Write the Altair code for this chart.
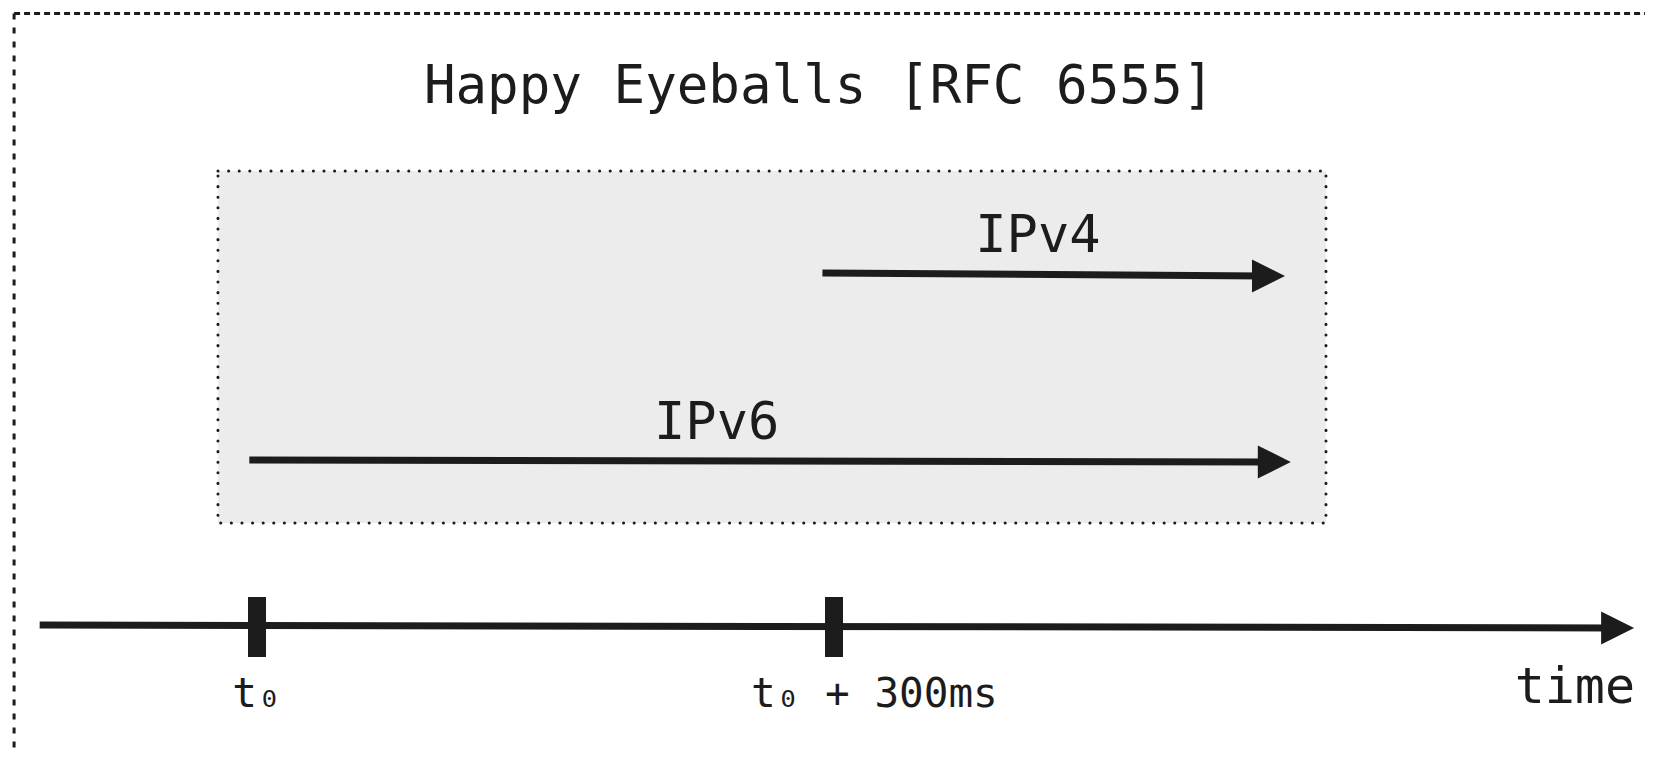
import altair as alt
import pandas as pd

# ---- values (x in ms relative to t0, y in page rows) ----
tick_ms = [0, 300]
tick_labels = ["t₀", "t₀ + 300ms"]
tick_label_ms = [0, 321]

arrow_names = ["IPv4", "IPv6", "time"]
arrow_start = [294, -4, -113]
arrow_end = [534.5, 537.5, 716]
arrow_y0 = [273, 460, 625]
arrow_y1 = [276, 462, 628]

label_text = ["IPv4", "IPv6"]
label_ms = [406, 239]
label_row = [252, 439]

title_text = "Happy Eyeballs [RFC 6555]"

# ---- layout ----
W, H = 1637, 741
PX_PER_MS = (834 - 257) / 300.0
X_DOMAIN = [(8 - 257) / PX_PER_MS, (1645 - 257) / PX_PER_MS]
Y_DOMAIN = [8, 749]
INK = "#1c1c1c"
FONT = "DejaVu Sans Mono"

xs = alt.Scale(domain=X_DOMAIN, range=[0, W], nice=False, zero=False)
ys = alt.Scale(domain=Y_DOMAIN, reverse=True, nice=False, zero=False)

def X(f, **k):
    return alt.X(f, type="quantitative", scale=xs, axis=None, **k)

def Y(f, **k):
    return alt.Y(f, type="quantitative", scale=ys, axis=None, **k)

arrows = pd.DataFrame({"name": arrow_names, "start": arrow_start, "end": arrow_end,
                       "y0": arrow_y0, "y1": arrow_y1})
ticks = pd.DataFrame({"ms": tick_ms, "label": tick_labels, "lms": tick_label_ms,
                      "top": [597, 597], "bot": [657, 657], "row": [707, 707]})
labels = pd.DataFrame({"text": label_text, "ms": label_ms, "row": label_row})
box = pd.DataFrame({"x0": [-20.3], "x1": [555.8], "y0": [171], "y1": [523]})
frame = pd.DataFrame({"x0": [-126.3], "x1": [X_DOMAIN[1] + 10], "y0": [13.5], "y1": [Y_DOMAIN[1] + 10]})
title_df = pd.DataFrame({"text": [title_text], "ms": [292.2], "row": [103]})
time_df = pd.DataFrame({"text": ["time"], "ms": [716.5], "row": [703]})

frame_top = alt.Chart(frame).mark_rule(color=INK, strokeWidth=3, strokeDash=[6, 4]).encode(
    x=X("x0"), x2="x1", y=Y("y0"))
frame_left = alt.Chart(frame).mark_rule(color=INK, strokeWidth=3, strokeDash=[6, 8]).encode(
    x=X("x0"), y=Y("y0"), y2="y1")

gray = alt.Chart(box).mark_rect(fill="#ececec", stroke=INK, strokeWidth=3,
                                strokeDash=[0.1, 10.5], strokeCap="round").encode(
    x=X("x0"), x2="x1", y=Y("y0"), y2="y1")

lines = alt.Chart(arrows).mark_rule(color=INK, strokeWidth=7, x2Offset=-20).encode(
    x=X("start"), x2="end", y=Y("y0"), y2="y1")
heads = alt.Chart(arrows).mark_point(shape="M-1,-1L1,0L-1,1Z", size=1089, filled=True,
                                     fill=INK, opacity=1, strokeWidth=0, xOffset=-16.5).encode(
    x=X("end"), y=Y("y1"))

tick_marks = alt.Chart(ticks).mark_rule(color=INK, strokeWidth=18).encode(
    x=X("ms"), y=Y("top"), y2="bot")
tick_text = alt.Chart(ticks).mark_text(font=FONT, fontSize=41, color=INK, baseline="alphabetic",
                                       align="center").encode(
    x=X("lms"), y=Y("row"), text="label")

lab = alt.Chart(labels).mark_text(font=FONT, fontSize=52, color=INK, baseline="alphabetic",
                                  align="center").encode(x=X("ms"), y=Y("row"), text="text")
ttl = alt.Chart(title_df).mark_text(font=FONT, fontSize=52.5, color=INK, baseline="alphabetic",
                                    align="center").encode(x=X("ms"), y=Y("row"), text="text")
tm = alt.Chart(time_df).mark_text(font=FONT, fontSize=50, color=INK, baseline="alphabetic",
                                  align="right").encode(x=X("ms"), y=Y("row"), text="text")

chart = alt.layer(frame_top, frame_left, gray, lines, heads, tick_marks, tick_text, lab, ttl, tm).properties(
    width=W, height=H, padding=0, autosize=alt.AutoSizeParams(type="none"), background="white"
).configure_view(stroke=None)

chart.save("out.html", embed_options={"renderer": "svg", "actions": False})
